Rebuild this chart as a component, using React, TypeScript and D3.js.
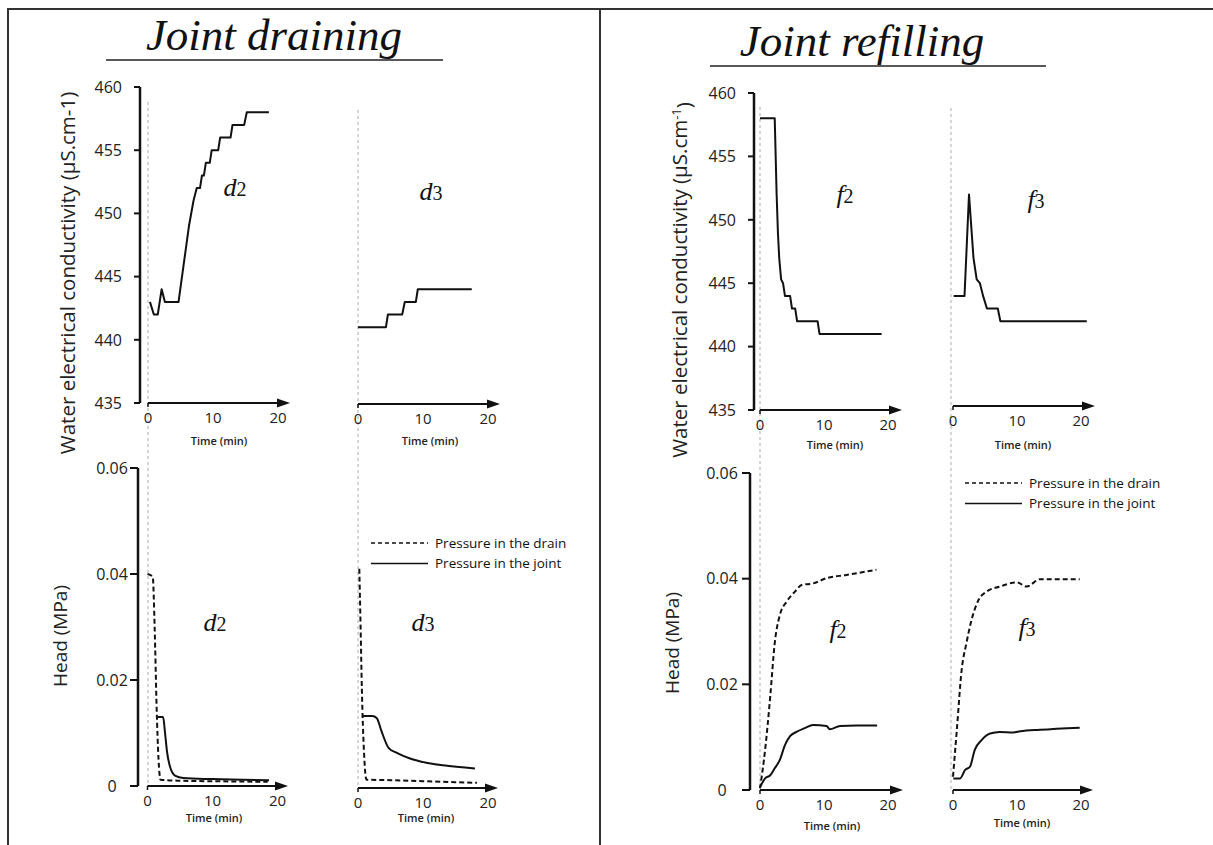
import React from "react";
import * as d3 from "d3";

type Pt = [number, number];

// ---------- data ----------
const timeTicks = [0, 10, 20];
const ecTicks = [435, 440, 445, 450, 455, 460];
const headTicks = [0, 0.02, 0.04, 0.06];
const headTickLabels = ["0", "0.02", "0.04", "0.06"];

const ecD2: Pt[] = [[0.3,443],[0.9,442],[1.5,442],[1.8,443],[2.1,444],[2.6,443],[4.7,443],[5.5,446],[6.3,449],[7.0,451],[7.5,452],[8.0,452],[8.3,453],[8.6,453],[8.9,454],[9.5,454],[9.8,455],[10.8,455],[11.1,456],[12.7,456],[13.0,457],[14.8,457],[15.2,458],[18.6,458]];
const ecD3: Pt[] = [[0,441],[4.3,441],[4.6,442],[6.8,442],[7.2,443],[8.9,443],[9.2,444],[17.5,444]];
const ecF2: Pt[] = [[0,458],[2.3,458],[2.6,452],[2.8,449],[3.0,447],[3.3,445.3],[3.6,445],[3.9,444],[4.7,444],[5.0,443],[5.5,443],[5.8,442],[9.0,442],[9.3,441],[19,441]];
const ecF3: Pt[] = [[0.1,444],[1.8,444],[2.5,452],[3.2,447],[3.7,445.3],[4.2,445],[4.7,444],[5.3,443],[7.0,443],[7.4,442],[20.9,442]];

const drainD2: Pt[] = [[0,0.04],[0.8,0.0395],[1.1,0.03],[1.4,0.015],[1.7,0.005],[2.0,0.0012],[5,0.001],[10,0.0009],[18.5,0.0008]];
const jointD2: Pt[] = [[1.6,0.013],[2.4,0.013],[2.7,0.01],[3.0,0.0065],[3.5,0.0035],[4.3,0.0019],[5.5,0.0015],[10,0.0013],[18.7,0.0011]];
const drainD3: Pt[] = [[0.2,0.041],[0.4,0.03],[0.6,0.018],[0.9,0.007],[1.3,0.0012],[5,0.0011],[10,0.0009],[18.3,0.0006]];
const jointD3: Pt[] = [[0.6,0.0132],[2.2,0.0132],[2.9,0.0128],[3.6,0.0104],[4.7,0.0072],[5.9,0.0063],[8.0,0.0052],[10.5,0.0044],[13.1,0.0039],[18.0,0.0033]];
const drainF2: Pt[] = [[0,0.0003],[0.8,0.0076],[1.6,0.0177],[2.3,0.0278],[3.1,0.0331],[4.2,0.0357],[5.5,0.0376],[6.5,0.0388],[8.3,0.0391],[10.4,0.0401],[13.5,0.0407],[18.2,0.0417]];
const jointF2: Pt[] = [[0,0.0005],[0.8,0.0022],[1.6,0.0028],[2.3,0.0041],[3.1,0.0057],[3.9,0.0085],[4.7,0.0102],[5.7,0.011],[7.0,0.0117],[8.3,0.0123],[10.4,0.0121],[10.9,0.0115],[12.5,0.0121],[15.1,0.0122],[18.3,0.0122]];
const drainF3: Pt[] = [[0,0.0025],[0.6,0.0114],[1.35,0.0227],[2.1,0.0278],[2.9,0.0322],[4.0,0.036],[5.3,0.0376],[7.3,0.0385],[10.0,0.0393],[11.5,0.0385],[13.6,0.0399],[19.8,0.0399]];
const jointF3: Pt[] = [[0.05,0.0022],[1.1,0.0022],[1.9,0.0038],[2.65,0.0044],[3.4,0.0076],[4.5,0.0095],[5.8,0.0107],[7.3,0.011],[9.4,0.0109],[10.5,0.0111],[13.6,0.0114],[19.8,0.0118]];

const legendLabels = ["Pressure in the drain", "Pressure in the joint"];

// ---------- style ----------
const SANS = "'Open Sans', 'Noto Sans', sans-serif";
const SERIF = "'Liberation Serif', 'DejaVu Serif', serif";
const INK = "#111";

// ---------- scales ----------
const xScale = (x0: number, w: number) => d3.scaleLinear().domain([0, 20]).range([x0, x0 + w]);
const ecLeft = d3.scaleLinear().domain([435, 460]).range([403, 87]);
const ecRight = d3.scaleLinear().domain([435, 460]).range([410, 93]);
const headLeft = d3.scaleLinear().domain([0, 0.06]).range([786, 468]);
const headRight = d3.scaleLinear().domain([0, 0.06]).range([790, 473]);

function path(data: Pt[], x: any, y: any, curve: any) {
  return d3.line<Pt>().x(d => x(d[0])).y(d => y(d[1])).curve(curve)(data) || "";
}

function XAxis({ x, y, tip, timeX, timeY }: any) {
  const x0 = x(0);
  return (
    <g>
      <line x1={x0} x2={tip - 8} y1={y} y2={y} stroke={INK} strokeWidth={2} />
      <path d={`M${tip},${y} L${tip - 13},${y - 4.5} L${tip - 13},${y + 4.5} Z`} fill={INK} />
      <line x1={x0} x2={x0} y1={y} y2={y + 4} stroke={INK} strokeWidth={1.5} />
      {timeTicks.map(t => (
        <text key={t} x={x(t)} y={y + 20} textAnchor="middle" fontFamily={SANS} fontSize={15} fill="#222">{t}</text>
      ))}
      <text x={timeX} y={timeY} textAnchor="middle" fontFamily={SANS} fontSize={11} fontWeight={600} fill="#222">Time (min)</text>
    </g>
  );
}

function YAxisEC({ ax, y }: any) {
  return (
    <g>
      <line x1={ax} x2={ax} y1={y(460)} y2={y(435)} stroke={INK} strokeWidth={2.5} />
      {ecTicks.map(v => (
        <g key={v}>
          <line x1={ax - 6} x2={ax} y1={y(v)} y2={y(v)} stroke={INK} strokeWidth={2} />
          <text x={ax - 18} y={y(v)} dy="0.36em" textAnchor="end" fontFamily={SANS} fontSize={16} fill="#222">{v}</text>
        </g>
      ))}
    </g>
  );
}

function YAxisHead({ ax, y, labelX }: any) {
  return (
    <g>
      <line x1={ax} x2={ax} y1={y(0.06)} y2={y(0)} stroke={INK} strokeWidth={2.5} />
      {headTicks.map((v, i) => (
        <g key={v}>
          <line x1={ax - 8} x2={ax} y1={y(v)} y2={y(v)} stroke={INK} strokeWidth={2} />
          <text x={labelX} y={y(v)} dy="0.36em" textAnchor="middle" fontFamily={SANS} fontSize={16} fill="#222">{headTickLabels[i]}</text>
        </g>
      ))}
    </g>
  );
}

function Tag({ x, y, letter, num }: any) {
  return (
    <text x={x} y={y} dy="0.32em" textAnchor="middle" fontFamily={SERIF} fontSize={26} fill={INK}>
      <tspan fontStyle="italic">{letter}</tspan>
      <tspan fontSize={20}>{num}</tspan>
    </text>
  );
}

function Legend({ x, y }: any) {
  return (
    <g fontFamily={SANS} fontSize={13.5} fill={INK}>
      <line x1={x} x2={x + 57} y1={y} y2={y} stroke={INK} strokeWidth={1.6} strokeDasharray="4,3" />
      <text x={x + 64} y={y} dy="0.35em">{legendLabels[0]}</text>
      <line x1={x} x2={x + 57} y1={y + 20.5} y2={y + 20.5} stroke={INK} strokeWidth={1.6} />
      <text x={x + 64} y={y + 20.5} dy="0.35em">{legendLabels[1]}</text>
    </g>
  );
}

export default function App() {
  const xP1 = xScale(148, 130);
  const xP2 = xScale(358, 130);
  const xP3 = xScale(147.5, 130);
  const xP4 = xScale(358, 130);
  const xP5 = xScale(760, 128);
  const xP6 = xScale(953, 128);
  const xP7 = xScale(760, 128);
  const xP8 = xScale(953, 128);

  const step = d3.curveLinear;
  const smooth = d3.curveMonotoneX;
  const lineProps = { fill: "none", stroke: INK, strokeWidth: 2, strokeLinejoin: "round" as const };
  const dashProps = { ...lineProps, strokeDasharray: "5,3" };
  const zeroProps = { stroke: "#aaa", strokeWidth: 1, strokeDasharray: "3,3" };

  return (
    <svg width={1213} height={845} style={{ position: "absolute", left: 0, top: 0, background: "#fff" }}>
      <rect x={0} y={0} width={1213} height={845} fill="#fff" />
      {/* frame */}
      <line x1={7} x2={1213} y1={9} y2={9} stroke="#333" strokeWidth={2} />
      <line x1={8} x2={8} y1={8} y2={845} stroke="#333" strokeWidth={2} />
      <line x1={600} x2={600} y1={8} y2={845} stroke="#333" strokeWidth={2} />

      {/* titles */}
      <text x={274} y={50} textAnchor="middle" fontFamily={SERIF} fontStyle="italic" fontSize={45} fill={INK}>Joint draining</text>
      <line x1={106} x2={443} y1={60} y2={60} stroke="#222" strokeWidth={1.5} />
      <text x={862} y={56} textAnchor="middle" fontFamily={SERIF} fontStyle="italic" fontSize={45} fill={INK}>Joint refilling</text>
      <line x1={710} x2={1046} y1={66} y2={66} stroke="#222" strokeWidth={1.5} />

      {/* zero reference lines */}
      <line x1={xP1(0)} x2={xP1(0)} y1={102} y2={786} {...zeroProps} />
      <line x1={xP2(0)} x2={xP2(0)} y1={110} y2={788} {...zeroProps} />
      <line x1={xP5(0)} x2={xP5(0)} y1={107} y2={790} {...zeroProps} />
      <line x1={xP6(0) - 2} x2={xP6(0) - 2} y1={108} y2={790} {...zeroProps} />

      {/* y axis titles */}
      <text transform="translate(68,273) rotate(-90)" textAnchor="middle" dy="0.35em" fontFamily={SANS} fontSize={20.5} fill="#222">Water electrical conductivity (µS.cm-1)</text>
      <text transform="translate(60,636) rotate(-90)" textAnchor="middle" dy="0.35em" fontFamily={SANS} fontSize={19} fill="#222">Head (MPa)</text>
      <text transform="translate(680,280) rotate(-90)" textAnchor="middle" dy="0.35em" fontFamily={SANS} fontSize={20.5} fill="#222">
        Water electrical conductivity (µS.cm<tspan dy="-0.45em" fontSize={13}>-1</tspan><tspan dy="0.45em">)</tspan>
      </text>
      <text transform="translate(672,643) rotate(-90)" textAnchor="middle" dy="0.35em" fontFamily={SANS} fontSize={19} fill="#222">Head (MPa)</text>

      {/* axes */}
      <YAxisEC ax={140} y={ecLeft} />
      <YAxisEC ax={754} y={ecRight} />
      <YAxisHead ax={138} y={headLeft} labelX={112} />
      <YAxisHead ax={750} y={headRight} labelX={722} />

      <XAxis x={xP1} y={403} tip={290} timeX={219} timeY={445} />
      <XAxis x={xP2} y={404} tip={500} timeX={430} timeY={445} />
      <XAxis x={xP3} y={786} tip={288} timeX={214} timeY={822} />
      <XAxis x={xP4} y={788} tip={498} timeX={426} timeY={822} />
      <XAxis x={xP5} y={410} tip={902} timeX={835} timeY={449} />
      <XAxis x={xP6} y={406} tip={1095} timeX={1023} timeY={449} />
      <XAxis x={xP7} y={790} tip={903} timeX={832} timeY={830} />
      <XAxis x={xP8} y={790} tip={1093} timeX={1022} timeY={827} />

      {/* conductivity series */}
      <path d={path(ecD2, xP1, ecLeft, step)} {...lineProps} />
      <path d={path(ecD3, xP2, ecLeft, step)} {...lineProps} />
      <path d={path(ecF2, xP5, ecRight, step)} {...lineProps} />
      <path d={path(ecF3, xP6, ecRight, step)} {...lineProps} />

      {/* head series */}
      <path d={path(drainD2, xP3, headLeft, smooth)} {...dashProps} />
      <path d={path(jointD2, xP3, headLeft, smooth)} {...lineProps} />
      <path d={path(drainD3, xP4, headLeft, smooth)} {...dashProps} />
      <path d={path(jointD3, xP4, headLeft, smooth)} {...lineProps} />
      <path d={path(drainF2, xP7, headRight, smooth)} {...dashProps} />
      <path d={path(jointF2, xP7, headRight, smooth)} {...lineProps} />
      <path d={path(drainF3, xP8, headRight, smooth)} {...dashProps} />
      <path d={path(jointF3, xP8, headRight, smooth)} {...lineProps} />

      {/* panel tags */}
      <Tag x={235} y={188} letter="d" num="2" />
      <Tag x={431} y={192} letter="d" num="3" />
      <Tag x={215} y={623} letter="d" num="2" />
      <Tag x={423} y={623} letter="d" num="3" />
      <Tag x={845} y={195} letter="f" num="2" />
      <Tag x={1036} y={200} letter="f" num="3" />
      <Tag x={838} y={630} letter="f" num="2" />
      <Tag x={1027} y={628} letter="f" num="3" />

      {/* legends */}
      <Legend x={371} y={543} />
      <Legend x={965} y={483} />
    </svg>
  );
}
